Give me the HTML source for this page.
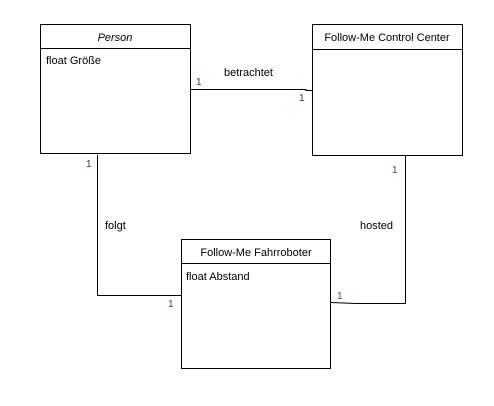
<!DOCTYPE html><html><head><style>body{margin:0;background:#fff}</style></head><body>
<svg width="494" height="401" xmlns="http://www.w3.org/2000/svg" font-family="Liberation Sans, sans-serif" font-size="11">
<rect width="494" height="401" fill="#fff"/>
<g fill="none" stroke="#000" stroke-width="1">
<rect x="40.5" y="24.5" width="150" height="129"/><line x1="40" y1="48.5" x2="190" y2="48.5"/>
<rect x="312.5" y="24.5" width="150" height="131"/><line x1="312" y1="49.5" x2="462" y2="49.5"/>
<rect x="181.5" y="239.5" width="149" height="129"/><line x1="181" y1="263.5" x2="330" y2="263.5"/>
<polyline points="191,89.5 306,89.5 306,90.5 312,90.5"/>
<polyline points="97.5,155 97.5,295.5 181,295.5"/>
<polyline points="405.5,156 405.5,303.5 356,303.5 331,302.5"/>
</g>
<text x="115" y="41" text-anchor="middle" font-style="italic">Person</text>
<text x="387" y="41" text-anchor="middle">Follow-Me Control Center</text>
<text x="256" y="256" text-anchor="middle">Follow-Me Fahrroboter</text>
<text x="46" y="64">float Größe</text>
<text x="186" y="280">float Abstand</text>
<text x="224" y="76">betrachtet</text>
<text x="105" y="229">folgt</text>
<text x="360" y="229">hosted</text>
<g font-size="10">
<text x="196" y="85" fill="#7a2a00">1</text>
<text x="299" y="101" fill="#7a2a00">1</text>
<text x="86" y="167" fill="#7a2a00">1</text>
<text x="168" y="307" fill="#1f4e99">1</text>
<text x="392" y="173" fill="#1f4e99">1</text>
<text x="337" y="299" fill="#1f4e99">1</text>
</g>
</svg></body></html>
